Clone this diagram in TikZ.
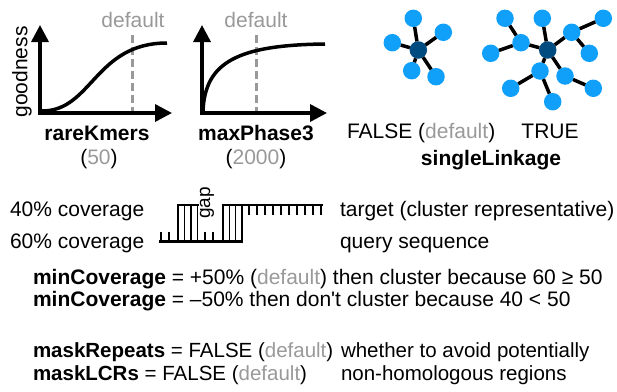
\documentclass[tikz,border=0pt]{standalone}
\usepackage{fontspec}
\setmainfont{Liberation Sans}
\newfontfamily\plainsf{Liberation Sans}
\usetikzlibrary{arrows.meta}
\definecolor{gr}{RGB}{153,153,153}
\definecolor{lb}{RGB}{16,160,250}
\definecolor{db}{RGB}{0,76,128}
\begin{document}
\begin{tikzpicture}[x=1pt,y=-1pt,
  every node/.style={inner sep=0pt, outer sep=0pt, font=\fontsize{21}{25}\selectfont},
  bold/.style={font=\fontsize{21}{25}\selectfont\bfseries},
  small/.style={font=\fontsize{20.5}{24}\selectfont},
  axis/.style={line width=3.5pt, {Triangle[length=17pt,width=17pt]}-{Triangle[length=17pt,width=17pt]}},
  curvestyle/.style={line width=3.5pt},
  defline/.style={gr, line width=3pt, dash pattern=on 8pt off 4pt},
  leaf/.style={circle, fill=lb, minimum size=17.5pt},
  hub/.style={circle, fill=db, minimum size=17.5pt},
  edge/.style={line width=3.5pt},
  seqline/.style={line width=2.7pt},
  pairline/.style={line width=1.3pt},
]
\useasboundingbox (0,0) rectangle (617,391);

% ---- graph 1: rareKmers
\draw[defline] (132,35) -- (132,111);
\draw[axis] (40,25) -- (40,113) -- (172,113);
\draw[curvestyle] (42,111) .. controls (92,111) and (95,43) .. (167,43);
\node[text=gr, anchor=base] (def1) at (133,27) {default};
\node[rotate=90] (good) at (22,72) {goodness};
\node[bold, anchor=base] (rk) at (97,140) {rareKmers};
\node[anchor=base] (rkv) at (99,164) {(\textcolor{gr}{50})};

% ---- graph 2: maxPhase3
\draw[defline] (256,35) -- (256,111);
\draw[axis] (202,25) -- (202,113) -- (327,113);
\draw[curvestyle] (203,111) .. controls (205,62) and (238,45) .. (325,44);
\node[text=gr, anchor=base] (def2) at (256,27) {default};
\node[bold, anchor=base] (mp) at (256,140) {maxPhase3};
\node[anchor=base] (mpv) at (256,164) {(\textcolor{gr}{2000})};

% ---- network FALSE
\node[hub] (h1) at (418.3,50) {};
\node[leaf] (a1) at (413.3,18.3) {};
\node[leaf] (b1) at (443.3,32.3) {};
\node[leaf] (c1) at (392.3,42.7) {};
\node[leaf] (d1) at (411.7,70.7) {};
\node[leaf] (e1) at (436,76.7) {};
\foreach \n in {a1,b1,c1,d1,e1} \draw[edge] (h1) -- (\n);

% ---- network TRUE
\node[hub] (h2) at (547.7,50) {};
\node[leaf] (na) at (505,18.3) {};
\node[leaf] (nb) at (542.3,18.3) {};
\node[leaf] (nc) at (603.3,18.3) {};
\node[leaf] (nd) at (521,42.7) {};
\node[leaf] (ne) at (490.7,53.3) {};
\node[leaf] (nf) at (571.7,32.3) {};
\node[leaf] (ng) at (589.3,53.3) {};
\node[leaf] (nh) at (540,71) {};
\node[leaf] (ni) at (565,76) {};
\node[leaf] (nj) at (510.7,88.3) {};
\node[leaf] (nk) at (593.3,88.3) {};
\node[leaf] (nl) at (552.7,101.7) {};
\foreach \n in {nb,nd,nf,nh,ni} \draw[edge] (h2) -- (\n);
\draw[edge] (nd) -- (na);
\draw[edge] (nd) -- (ne);
\draw[edge] (nf) -- (nc);
\draw[edge] (nf) -- (ng);
\draw[edge] (nh) -- (nj);
\draw[edge] (nh) -- (nl);
\draw[edge] (ni) -- (nk);

\node[anchor=base west] (fl) at (347,138.5) {FALSE (\textcolor{gr}{default})};
\node[anchor=base] (tr) at (550,138.5) {TRUE};
\node[bold, anchor=base] (sl) at (491,165) {singleLinkage};

% ---- alignment
\node[anchor=base west] (c40) at (10,216) {40\% coverage};
\node[anchor=base west] (c60) at (10,248) {60\% coverage};
\node[anchor=base west] (tg) at (340,216) {target (cluster representative)};
\node[anchor=base west] (qs) at (340,248) {query sequence};
\draw[seqline] (176.7,205) -- (199.3,205);
\draw[seqline] (221.7,205) -- (322.7,205);
\draw[seqline] (159.3,241.7) -- (242.7,241.7);
\foreach \x in {178,184.5,191,197.5,223,229.3,235.6,241.9}
  \draw[pairline] (\x,205) -- (\x,241.7);
\foreach \k in {0,...,9}
  \draw[pairline] (249+8*\k,205) -- (249+8*\k,215);
\foreach \x in {161,169,205,213}
  \draw[pairline] (\x,241.7) -- (\x,232);
\node[rotate=90, font=\fontsize{19}{22}\selectfont] (gap) at (207,203) {gap};

% ---- bottom text
\node[anchor=base west] (mc1) at (33,284) {\textbf{minCoverage} = +50\% (\textcolor{gr}{default}) then cluster because 60 ≥ 50};
\node[anchor=base west] (mc2) at (33,306) {\textbf{minCoverage} = –50\% then don{\plainsf'}t cluster because 40 < 50};
\node[small, anchor=base west] (mr) at (33,357.5) {\textbf{maskRepeats} = FALSE (\textcolor{gr}{default})};
\node[small, anchor=base west] (wh) at (341,357.5) {whether to avoid potentially};
\node[small, anchor=base west] (ml) at (33,380) {\textbf{maskLCRs} = FALSE (\textcolor{gr}{default})};
\node[small, anchor=base west] (nhr) at (341,380) {non-homologous regions};
\end{tikzpicture}
\end{document}
